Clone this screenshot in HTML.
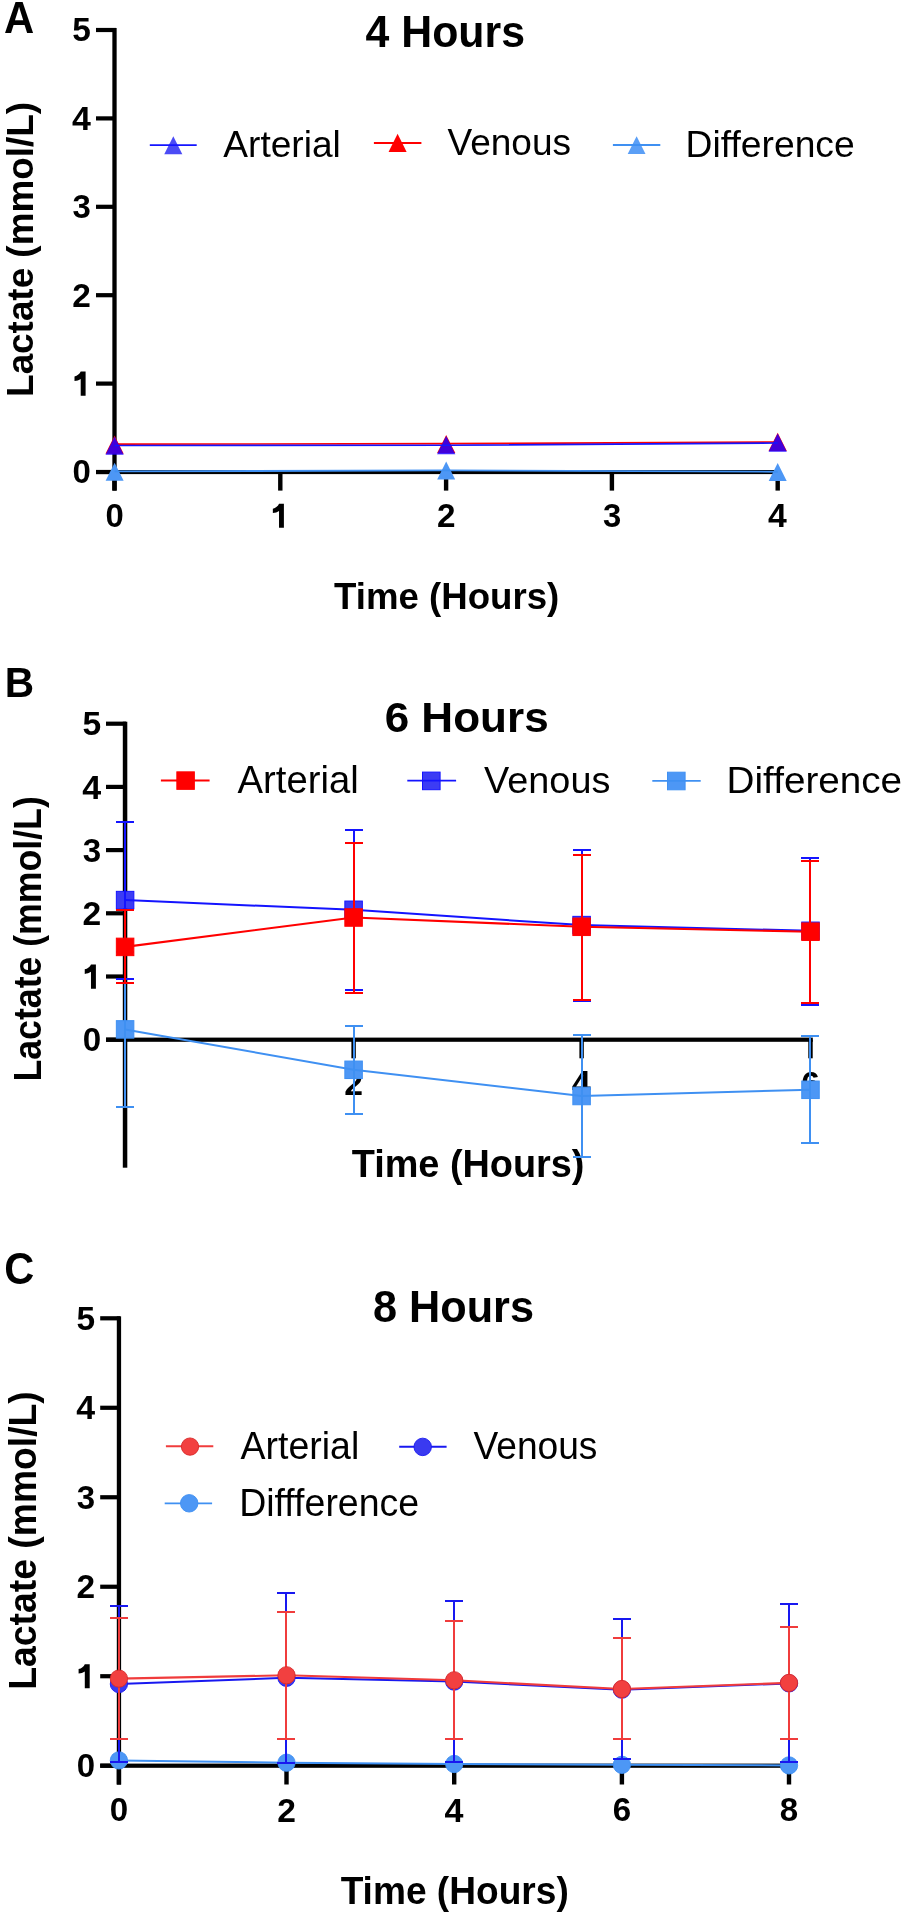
<!DOCTYPE html>
<html><head><meta charset="utf-8"><title>Lactate</title>
<style>html,body{margin:0;padding:0;background:#fff;} svg{display:block;will-change:transform;} text{font-family:"Liberation Sans", sans-serif;fill:#000;}</style>
</head><body>
<svg width="905" height="1916" viewBox="0 0 905 1916">
<rect width="905" height="1916" fill="#fff"/>
<text transform="translate(3.95,32.60) scale(0.9338,1)" font-size="44.78" font-weight="bold">A</text>
<text transform="translate(365.54,46.56) scale(0.9832,1)" font-size="43.57" font-weight="bold">4 Hours</text>
<text transform="translate(33.10,396.88) rotate(-90) scale(0.9818,1)" font-size="37.54" font-weight="bold">Lactate (mmol/L)</text>
<text transform="translate(334.03,608.70) scale(0.9956,1)" font-size="36.81" font-weight="bold">Time (Hours)</text>
<rect x="112.35" y="28.00" width="4.30" height="462.60" fill="#000"/>
<rect x="96.00" y="469.90" width="20.00" height="4.20" fill="#000"/>
<text transform="translate(72.58,483.37) scale(1.0000,1)" font-size="32.96" font-weight="bold">0</text>
<rect x="96.00" y="381.50" width="20.00" height="4.20" fill="#000"/>
<path d="M85.60,395.70 L80.70,395.70 L80.70,378.90 C79.00,380.10 76.80,380.80 74.50,381.00 L74.50,376.50 C77.40,375.90 79.70,373.90 80.70,371.60 L85.60,371.60 Z" fill="#000"/>
<rect x="96.00" y="293.10" width="20.00" height="4.20" fill="#000"/>
<text transform="translate(72.31,306.90) scale(1.0000,1)" font-size="33.43" font-weight="bold">2</text>
<rect x="96.00" y="204.70" width="20.00" height="4.20" fill="#000"/>
<text transform="translate(72.58,218.17) scale(1.0000,1)" font-size="32.96" font-weight="bold">3</text>
<rect x="96.00" y="116.30" width="20.00" height="4.20" fill="#000"/>
<text transform="translate(72.04,130.10) scale(1.0000,1)" font-size="33.91" font-weight="bold">4</text>
<rect x="96.00" y="27.90" width="20.00" height="4.20" fill="#000"/>
<text transform="translate(72.31,41.37) scale(1.0000,1)" font-size="33.43" font-weight="bold">5</text>
<rect x="96.00" y="470.00" width="684.00" height="4.10" fill="#000"/>
<rect x="112.30" y="472.00" width="4.40" height="18.60" fill="#000"/>
<text transform="translate(105.48,527.02) scale(1.0000,1)" font-size="32.82" font-weight="bold">0</text>
<rect x="278.10" y="472.00" width="4.40" height="18.60" fill="#000"/>
<path d="M283.90,527.75 L279.02,527.75 L279.02,511.02 C277.33,512.21 275.14,512.91 272.85,513.11 L272.85,508.63 C275.73,508.03 278.02,506.04 279.02,503.75 L283.90,503.75 Z" fill="#000"/>
<rect x="443.90" y="472.00" width="4.40" height="18.60" fill="#000"/>
<text transform="translate(436.95,527.35) scale(1.0000,1)" font-size="33.29" font-weight="bold">2</text>
<rect x="609.70" y="472.00" width="4.40" height="18.60" fill="#000"/>
<text transform="translate(603.04,527.02) scale(1.0000,1)" font-size="32.82" font-weight="bold">3</text>
<rect x="775.50" y="472.00" width="4.40" height="18.60" fill="#000"/>
<text transform="translate(768.08,527.35) scale(1.0000,1)" font-size="33.77" font-weight="bold">4</text>
<path d="M173.30,136.25L182.35,154.35L164.25,154.35Z" fill="#3c3cf4" fill-opacity="0.92"/>
<polyline points="149.80,145.20 196.70,145.20" fill="none" stroke="#1414ff" stroke-width="1.8" stroke-linejoin="round"/>
<text transform="translate(223.30,157.10) scale(0.9883,1)" font-size="37.54" font-weight="normal">Arterial</text>
<path d="M397.60,133.85L406.65,151.95L388.55,151.95Z" fill="#ff0000" fill-opacity="1.0"/>
<polyline points="373.90,143.00 421.40,143.00" fill="none" stroke="#ff0000" stroke-width="1.9" stroke-linejoin="round"/>
<text transform="translate(447.53,155.10) scale(0.9940,1)" font-size="37.25" font-weight="normal">Venous</text>
<path d="M636.60,136.20L645.50,154.00L627.70,154.00Z" fill="#4d97f5" fill-opacity="0.92"/>
<polyline points="612.90,145.00 660.30,145.00" fill="none" stroke="#3f90f2" stroke-width="1.8" stroke-linejoin="round"/>
<text transform="translate(685.52,157.40) scale(0.9931,1)" font-size="37.54" font-weight="normal">Difference</text>
<path d="M114.60,462.75L123.60,480.75L105.60,480.75Z" fill="#4d97f5" fill-opacity="1.0"/>
<path d="M446.20,461.45L455.20,479.45L437.20,479.45Z" fill="#4d97f5" fill-opacity="1.0"/>
<path d="M777.70,462.95L786.70,480.95L768.70,480.95Z" fill="#4d97f5" fill-opacity="1.0"/>
<polyline points="114.60,471.40 446.20,470.40 777.70,471.70" fill="none" stroke="#3f90f2" stroke-width="1.9" stroke-linejoin="round"/>
<path d="M114.60,435.50L123.70,453.70L105.50,453.70Z" fill="#ff0000" fill-opacity="1.0"/>
<path d="M446.20,434.90L455.30,453.10L437.10,453.10Z" fill="#ff0000" fill-opacity="1.0"/>
<path d="M777.70,432.80L786.80,451.00L768.60,451.00Z" fill="#ff0000" fill-opacity="1.0"/>
<polyline points="114.60,444.20 446.20,443.70 777.70,442.00" fill="none" stroke="#ff0000" stroke-width="1.7" stroke-linejoin="round"/>
<path d="M114.60,436.50L123.70,454.70L105.50,454.70Z" fill="#2000ff" fill-opacity="0.85"/>
<path d="M446.20,436.10L455.30,454.30L437.10,454.30Z" fill="#2000ff" fill-opacity="0.85"/>
<path d="M777.70,433.50L786.80,451.70L768.60,451.70Z" fill="#2000ff" fill-opacity="0.85"/>
<polyline points="114.60,445.50 446.20,445.30 777.70,443.00" fill="none" stroke="#1414ff" stroke-width="1.6" stroke-linejoin="round"/>
<text transform="translate(4.65,697.30) scale(0.9414,1)" font-size="43.19" font-weight="bold">B</text>
<text transform="translate(384.64,731.98) scale(1.0394,1)" font-size="42.39" font-weight="bold">6 Hours</text>
<text transform="translate(40.90,1081.50) rotate(-90) scale(0.9215,1)" font-size="38.70" font-weight="bold">Lactate (mmol/L)</text>
<text transform="translate(351.72,1177.30) scale(0.9897,1)" font-size="38.26" font-weight="bold">Time (Hours)</text>
<rect x="122.80" y="721.70" width="4.50" height="446.00" fill="#000"/>
<rect x="106.00" y="1037.60" width="20.00" height="4.20" fill="#000"/>
<text transform="translate(82.80,1051.12) scale(1.0000,1)" font-size="33.10" font-weight="bold">0</text>
<rect x="106.00" y="974.40" width="20.00" height="4.20" fill="#000"/>
<path d="M95.90,988.65 L90.98,988.65 L90.98,971.78 C89.27,972.99 87.06,973.69 84.75,973.89 L84.75,969.37 C87.67,968.77 89.98,966.76 90.98,964.45 L95.90,964.45 Z" fill="#000"/>
<rect x="106.00" y="911.20" width="20.00" height="4.20" fill="#000"/>
<text transform="translate(82.53,925.05) scale(1.0000,1)" font-size="33.57" font-weight="bold">2</text>
<rect x="106.00" y="848.00" width="20.00" height="4.20" fill="#000"/>
<text transform="translate(82.80,861.52) scale(1.0000,1)" font-size="33.10" font-weight="bold">3</text>
<rect x="106.00" y="784.80" width="20.00" height="4.20" fill="#000"/>
<text transform="translate(82.26,798.65) scale(1.0000,1)" font-size="34.06" font-weight="bold">4</text>
<rect x="106.00" y="721.60" width="20.00" height="4.20" fill="#000"/>
<text transform="translate(82.53,735.11) scale(1.0000,1)" font-size="33.57" font-weight="bold">5</text>
<rect x="106.00" y="1037.60" width="706.80" height="4.20" fill="#000"/>
<rect x="351.40" y="1039.70" width="4.40" height="18.60" fill="#000"/>
<text transform="translate(344.33,1095.40) scale(1.0000,1)" font-size="33.71" font-weight="bold">2</text>
<rect x="579.40" y="1039.70" width="4.40" height="18.60" fill="#000"/>
<text transform="translate(571.85,1095.40) scale(1.0000,1)" font-size="34.20" font-weight="bold">4</text>
<rect x="808.30" y="1039.70" width="4.40" height="18.60" fill="#000"/>
<text transform="translate(801.19,1095.07) scale(1.0000,1)" font-size="33.24" font-weight="bold">6</text>
<rect x="176.85" y="771.85" width="17.50" height="17.50" fill="#ff0000" stroke="#ff0000" stroke-width="1"/>
<polyline points="160.90,780.50 209.60,780.50" fill="none" stroke="#ff0000" stroke-width="1.9" stroke-linejoin="round"/>
<text transform="translate(237.50,793.40) scale(0.9887,1)" font-size="38.70" font-weight="normal">Arterial</text>
<rect x="422.50" y="772.10" width="17.60" height="17.60" fill="#3c3cf4" stroke="#1414ff" stroke-width="1"/>
<polyline points="407.30,780.70 456.10,780.70" fill="none" stroke="#1414ff" stroke-width="1.7" stroke-linejoin="round"/>
<text transform="translate(484.12,793.10) scale(1.0081,1)" font-size="37.54" font-weight="normal">Venous</text>
<rect x="667.50" y="772.20" width="17.60" height="17.60" fill="#4d97f5" stroke="#3f90f2" stroke-width="1"/>
<polyline points="652.30,780.90 700.70,780.90" fill="none" stroke="#3f90f2" stroke-width="1.8" stroke-linejoin="round"/>
<text transform="translate(726.61,792.50) scale(1.0380,1)" font-size="37.25" font-weight="normal">Difference</text>
<rect x="116.35" y="1020.65" width="17.50" height="17.50" fill="#4d97f5" stroke="#3f90f2" stroke-width="1"/>
<rect x="344.85" y="1061.05" width="17.50" height="17.50" fill="#4d97f5" stroke="#3f90f2" stroke-width="1"/>
<rect x="572.85" y="1087.25" width="17.50" height="17.50" fill="#4d97f5" stroke="#3f90f2" stroke-width="1"/>
<rect x="801.75" y="1081.05" width="17.50" height="17.50" fill="#4d97f5" stroke="#3f90f2" stroke-width="1"/>
<path d="M125.00,952.00V1107.00M116.00,952.00H134.00M116.00,1107.00H134.00" stroke="#3f90f2" stroke-width="2.0" fill="none"/>
<path d="M354.00,1026.00V1114.00M345.00,1026.00H363.00M345.00,1114.00H363.00" stroke="#3f90f2" stroke-width="2.0" fill="none"/>
<path d="M582.00,1035.00V1157.00M573.00,1035.00H591.00M573.00,1157.00H591.00" stroke="#3f90f2" stroke-width="2.0" fill="none"/>
<path d="M810.00,1036.00V1143.00M801.00,1036.00H819.00M801.00,1143.00H819.00" stroke="#3f90f2" stroke-width="2.0" fill="none"/>
<polyline points="125.10,1029.40 353.60,1069.80 581.60,1096.00 810.50,1089.80" fill="none" stroke="#3f90f2" stroke-width="2.0" stroke-linejoin="round"/>
<rect x="116.35" y="891.35" width="17.50" height="17.50" fill="#3c3cf4" stroke="#1414ff" stroke-width="1"/>
<rect x="344.85" y="901.05" width="17.50" height="17.50" fill="#3c3cf4" stroke="#1414ff" stroke-width="1"/>
<rect x="572.85" y="916.35" width="17.50" height="17.50" fill="#3c3cf4" stroke="#1414ff" stroke-width="1"/>
<rect x="801.75" y="922.05" width="17.50" height="17.50" fill="#3c3cf4" stroke="#1414ff" stroke-width="1"/>
<path d="M125.00,822.00V979.00M116.00,822.00H134.00M116.00,979.00H134.00" stroke="#1414ff" stroke-width="2.0" fill="none"/>
<path d="M354.00,830.00V990.00M345.00,830.00H363.00M345.00,990.00H363.00" stroke="#1414ff" stroke-width="2.0" fill="none"/>
<path d="M582.00,850.00V1001.00M573.00,850.00H591.00M573.00,1001.00H591.00" stroke="#1414ff" stroke-width="2.0" fill="none"/>
<path d="M810.00,858.00V1005.00M801.00,858.00H819.00M801.00,1005.00H819.00" stroke="#1414ff" stroke-width="2.0" fill="none"/>
<polyline points="125.10,900.10 353.60,909.80 581.60,925.10 810.50,930.80" fill="none" stroke="#1414ff" stroke-width="2.0" stroke-linejoin="round"/>
<rect x="116.35" y="938.15" width="17.50" height="17.50" fill="#ff0000" stroke="#ff0000" stroke-width="1"/>
<rect x="344.85" y="908.75" width="17.50" height="17.50" fill="#ff0000" stroke="#ff0000" stroke-width="1"/>
<rect x="572.85" y="918.05" width="17.50" height="17.50" fill="#ff0000" stroke="#ff0000" stroke-width="1"/>
<rect x="801.75" y="922.95" width="17.50" height="17.50" fill="#ff0000" stroke="#ff0000" stroke-width="1"/>
<path d="M125.00,910.00V983.00M116.00,910.00H134.00M116.00,983.00H134.00" stroke="#ff0000" stroke-width="2.0" fill="none"/>
<path d="M354.00,843.00V993.00M345.00,843.00H363.00M345.00,993.00H363.00" stroke="#ff0000" stroke-width="2.0" fill="none"/>
<path d="M582.00,855.00V1000.00M573.00,855.00H591.00M573.00,1000.00H591.00" stroke="#ff0000" stroke-width="2.0" fill="none"/>
<path d="M810.00,861.00V1003.00M801.00,861.00H819.00M801.00,1003.00H819.00" stroke="#ff0000" stroke-width="2.0" fill="none"/>
<polyline points="125.10,946.90 353.60,917.50 581.60,926.80 810.50,931.70" fill="none" stroke="#ff0000" stroke-width="2.1" stroke-linejoin="round"/>
<text transform="translate(4.14,1283.95) scale(0.9245,1)" font-size="44.93" font-weight="bold">C</text>
<text transform="translate(373.00,1321.96) scale(0.9876,1)" font-size="43.80" font-weight="bold">8 Hours</text>
<text transform="translate(36.40,1689.71) rotate(-90) scale(0.9715,1)" font-size="38.41" font-weight="bold">Lactate (mmol/L)</text>
<text transform="translate(340.63,1904.20) scale(0.9773,1)" font-size="37.97" font-weight="bold">Time (Hours)</text>
<rect x="116.80" y="1316.30" width="4.30" height="468.30" fill="#000"/>
<rect x="100.20" y="1763.60" width="19.80" height="4.20" fill="#000"/>
<text transform="translate(76.68,1777.07) scale(1.0000,1)" font-size="32.96" font-weight="bold">0</text>
<rect x="100.20" y="1674.12" width="19.80" height="4.20" fill="#000"/>
<path d="M89.70,1688.32 L84.80,1688.32 L84.80,1671.52 C83.10,1672.72 80.90,1673.42 78.60,1673.62 L78.60,1669.12 C81.50,1668.52 83.80,1666.52 84.80,1664.22 L89.70,1664.22 Z" fill="#000"/>
<rect x="100.20" y="1584.64" width="19.80" height="4.20" fill="#000"/>
<text transform="translate(76.41,1598.44) scale(1.0000,1)" font-size="33.43" font-weight="bold">2</text>
<rect x="100.20" y="1495.16" width="19.80" height="4.20" fill="#000"/>
<text transform="translate(76.68,1508.63) scale(1.0000,1)" font-size="32.96" font-weight="bold">3</text>
<rect x="100.20" y="1405.68" width="19.80" height="4.20" fill="#000"/>
<text transform="translate(76.14,1419.48) scale(1.0000,1)" font-size="33.91" font-weight="bold">4</text>
<rect x="100.20" y="1316.20" width="19.80" height="4.20" fill="#000"/>
<text transform="translate(76.41,1329.67) scale(1.0000,1)" font-size="33.43" font-weight="bold">5</text>
<rect x="100.20" y="1763.60" width="691.00" height="4.20" fill="#000"/>
<rect x="116.70" y="1765.70" width="4.40" height="18.80" fill="#000"/>
<text transform="translate(109.80,1821.42) scale(1.0000,1)" font-size="33.10" font-weight="bold">0</text>
<rect x="284.30" y="1765.70" width="4.40" height="18.80" fill="#000"/>
<text transform="translate(277.27,1821.75) scale(1.0000,1)" font-size="33.57" font-weight="bold">2</text>
<rect x="452.00" y="1765.70" width="4.40" height="18.80" fill="#000"/>
<text transform="translate(444.49,1821.75) scale(1.0000,1)" font-size="34.06" font-weight="bold">4</text>
<rect x="619.70" y="1765.70" width="4.40" height="18.80" fill="#000"/>
<text transform="translate(612.63,1821.42) scale(1.0000,1)" font-size="33.10" font-weight="bold">6</text>
<rect x="786.80" y="1765.70" width="4.40" height="18.80" fill="#000"/>
<text transform="translate(779.73,1821.42) scale(1.0000,1)" font-size="33.10" font-weight="bold">8</text>
<polyline points="165.90,1446.30 213.30,1446.30" fill="none" stroke="#f03c3c" stroke-width="1.9" stroke-linejoin="round"/>
<circle cx="190.00" cy="1446.60" r="8.65" fill="#f24040" stroke="#d82828" stroke-width="0.9"/>
<text transform="translate(240.60,1458.90) scale(0.9687,1)" font-size="38.70" font-weight="normal">Arterial</text>
<polyline points="399.20,1446.70 446.60,1446.70" fill="none" stroke="#1818f0" stroke-width="1.9" stroke-linejoin="round"/>
<circle cx="422.70" cy="1446.90" r="8.75" fill="#3a3af0" stroke="#1818f0" stroke-width="0.9"/>
<text transform="translate(473.53,1458.90) scale(0.9745,1)" font-size="38.12" font-weight="normal">Venous</text>
<polyline points="164.70,1503.40 212.10,1503.40" fill="none" stroke="#3f90f2" stroke-width="1.9" stroke-linejoin="round"/>
<circle cx="189.20" cy="1503.30" r="8.75" fill="#4d97f5" stroke="#3f90f2" stroke-width="0.9"/>
<text transform="translate(239.20,1515.90) scale(0.9768,1)" font-size="38.41" font-weight="normal">Diffference</text>
<polyline points="118.90,1760.40 286.50,1762.70 454.20,1764.00 621.90,1764.80 789.00,1765.40" fill="none" stroke="#3f90f2" stroke-width="2.0" stroke-linejoin="round"/>
<circle cx="118.90" cy="1760.40" r="8.65" fill="#4d97f5" stroke="#3f90f2" stroke-width="0.9"/>
<circle cx="286.50" cy="1762.70" r="8.65" fill="#4d97f5" stroke="#3f90f2" stroke-width="0.9"/>
<circle cx="454.20" cy="1764.00" r="8.65" fill="#4d97f5" stroke="#3f90f2" stroke-width="0.9"/>
<circle cx="621.90" cy="1764.80" r="8.65" fill="#4d97f5" stroke="#3f90f2" stroke-width="0.9"/>
<circle cx="789.00" cy="1765.40" r="8.65" fill="#4d97f5" stroke="#3f90f2" stroke-width="0.9"/>
<path d="M119.00,1606.00V1762.00M110.00,1606.00H128.00M110.00,1762.00H128.00" stroke="#1818f0" stroke-width="2.0" fill="none"/>
<path d="M286.00,1593.00V1763.00M277.00,1593.00H295.00M277.00,1763.00H295.00" stroke="#1818f0" stroke-width="2.0" fill="none"/>
<path d="M454.00,1601.00V1762.00M445.00,1601.00H463.00M445.00,1762.00H463.00" stroke="#1818f0" stroke-width="2.0" fill="none"/>
<path d="M622.00,1619.00V1759.00M613.00,1619.00H631.00M613.00,1759.00H631.00" stroke="#1818f0" stroke-width="2.0" fill="none"/>
<path d="M789.00,1604.00V1762.00M780.00,1604.00H798.00M780.00,1762.00H798.00" stroke="#1818f0" stroke-width="2.0" fill="none"/>
<polyline points="118.90,1684.00 286.50,1677.80 454.20,1681.60 621.90,1689.70 789.00,1683.40" fill="none" stroke="#1818f0" stroke-width="2.0" stroke-linejoin="round"/>
<circle cx="118.90" cy="1684.00" r="8.65" fill="#3a3af0" stroke="#1818f0" stroke-width="0.9"/>
<circle cx="286.50" cy="1677.80" r="8.65" fill="#3a3af0" stroke="#1818f0" stroke-width="0.9"/>
<circle cx="454.20" cy="1681.60" r="8.65" fill="#3a3af0" stroke="#1818f0" stroke-width="0.9"/>
<circle cx="621.90" cy="1689.70" r="8.65" fill="#3a3af0" stroke="#1818f0" stroke-width="0.9"/>
<circle cx="789.00" cy="1683.40" r="8.65" fill="#3a3af0" stroke="#1818f0" stroke-width="0.9"/>
<path d="M119.00,1618.00V1739.00M110.00,1618.00H128.00M110.00,1739.00H128.00" stroke="#f03c3c" stroke-width="2.0" fill="none"/>
<path d="M286.00,1612.00V1739.00M277.00,1612.00H295.00M277.00,1739.00H295.00" stroke="#f03c3c" stroke-width="2.0" fill="none"/>
<path d="M454.00,1621.00V1739.00M445.00,1621.00H463.00M445.00,1739.00H463.00" stroke="#f03c3c" stroke-width="2.0" fill="none"/>
<path d="M622.00,1638.00V1739.00M613.00,1638.00H631.00M613.00,1739.00H631.00" stroke="#f03c3c" stroke-width="2.0" fill="none"/>
<path d="M789.00,1627.00V1739.00M780.00,1627.00H798.00M780.00,1739.00H798.00" stroke="#f03c3c" stroke-width="2.0" fill="none"/>
<polyline points="118.90,1678.60 286.50,1675.30 454.20,1680.30 621.90,1689.00 789.00,1682.90" fill="none" stroke="#f03c3c" stroke-width="2.1" stroke-linejoin="round"/>
<circle cx="118.90" cy="1678.60" r="8.65" fill="#f24040" stroke="#d82828" stroke-width="0.9"/>
<circle cx="286.50" cy="1675.30" r="8.65" fill="#f24040" stroke="#d82828" stroke-width="0.9"/>
<circle cx="454.20" cy="1680.30" r="8.65" fill="#f24040" stroke="#d82828" stroke-width="0.9"/>
<circle cx="621.90" cy="1689.00" r="8.65" fill="#f24040" stroke="#d82828" stroke-width="0.9"/>
<circle cx="789.00" cy="1682.90" r="8.65" fill="#f24040" stroke="#d82828" stroke-width="0.9"/>
</svg>
</body></html>
